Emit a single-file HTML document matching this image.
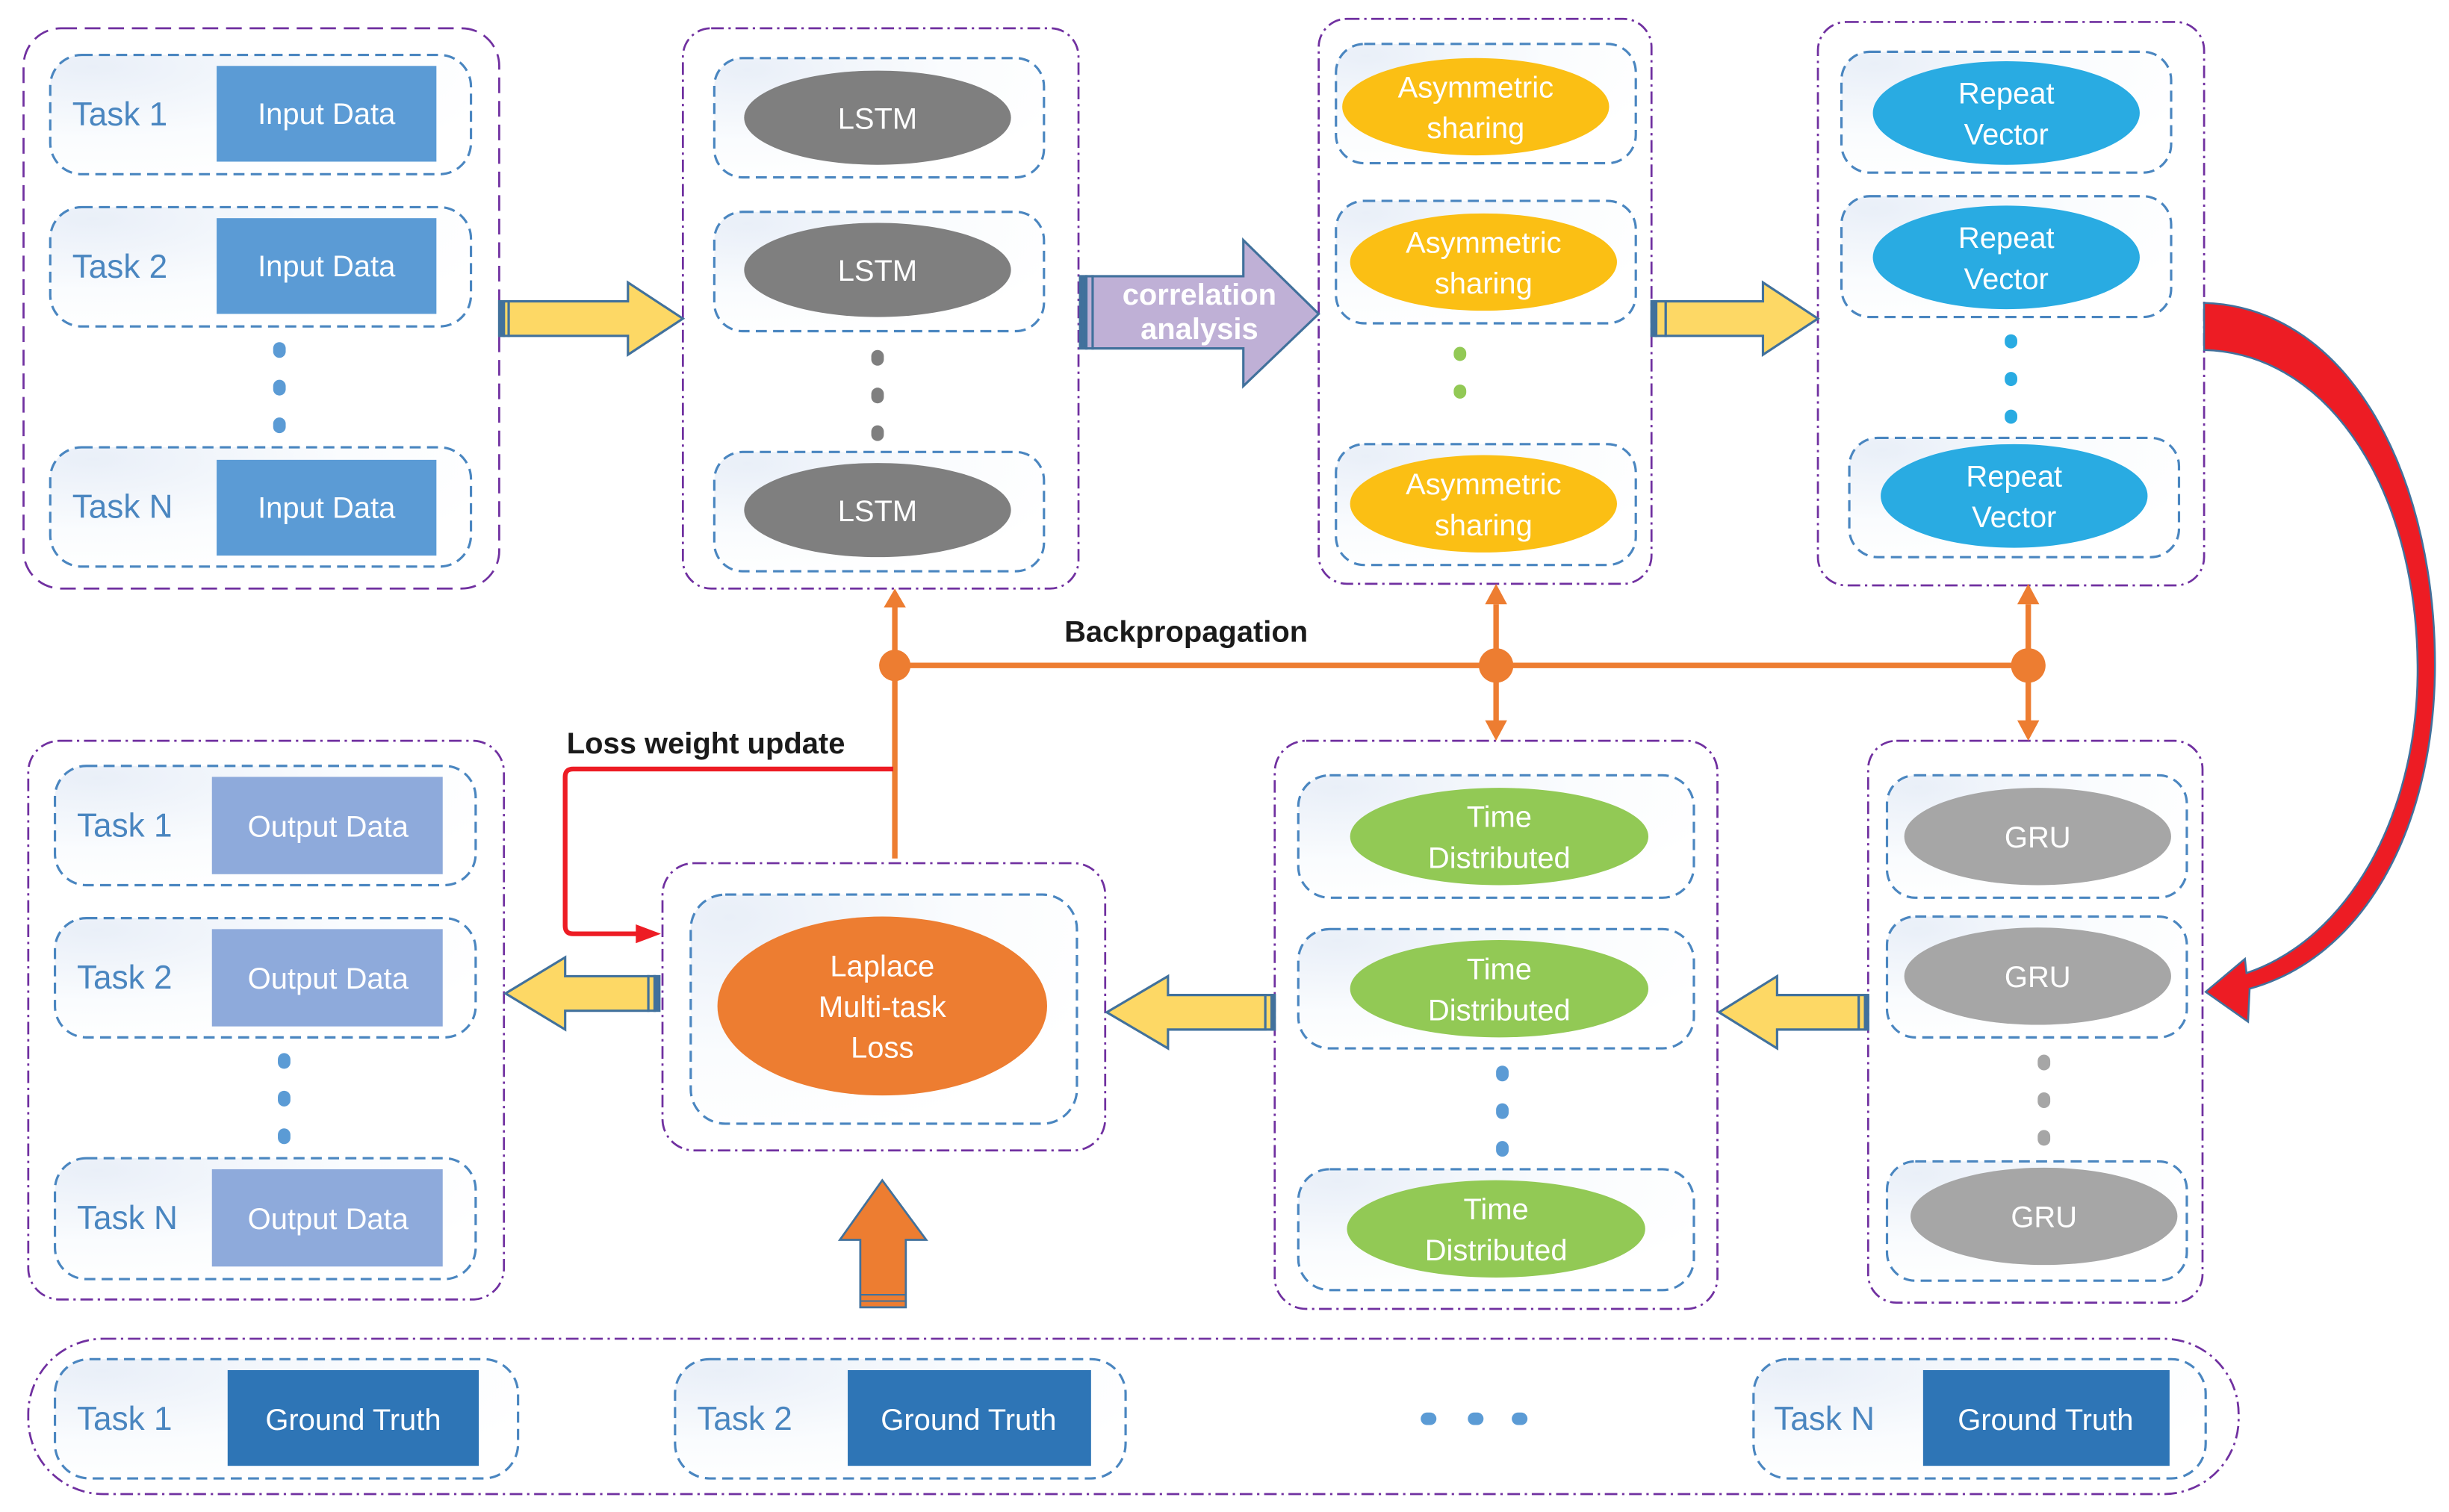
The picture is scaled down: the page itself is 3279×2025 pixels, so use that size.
<!DOCTYPE html>
<html><head><meta charset="utf-8"><style>
html,body{margin:0;padding:0;background:#fff;}
svg{display:block;}
text{font-family:"Liberation Sans",sans-serif;}
</style></head><body>
<svg width="3279" height="2025" viewBox="0 0 1560 963.4" xmlns="http://www.w3.org/2000/svg">
<defs>
<radialGradient id="g" cx="0.1" cy="0.1" r="1">
<stop offset="0" stop-color="#e9eff8"/><stop offset="0.6" stop-color="#fafcfe"/><stop offset="1" stop-color="#fff"/>
</radialGradient>
</defs>
<g fill="none" stroke="#7030a0" stroke-width="1.3">
<rect x="15" y="18" width="303" height="357" rx="24" stroke-dasharray="10,5"/>
<rect x="435" y="18" width="252" height="357" rx="18" stroke-dasharray="8,3,1.5,3"/>
<rect x="840" y="12" width="212" height="360" rx="18" stroke-dasharray="8,3,1.5,3"/>
<rect x="1158" y="14" width="246" height="359" rx="18" stroke-dasharray="8,3,1.5,3"/>
<rect x="18" y="472" width="303" height="356" rx="20" stroke-dasharray="8,3,1.5,3"/>
<rect x="422" y="550" width="282" height="183" rx="20" stroke-dasharray="8,3,1.5,3"/>
<rect x="812" y="472" width="282" height="362" rx="20" stroke-dasharray="8,3,1.5,3"/>
<rect x="1190" y="472" width="213" height="358" rx="18" stroke-dasharray="8,3,1.5,3"/>
<rect x="18" y="853" width="1408" height="99" rx="48" stroke-dasharray="8,3,1.5,3"/>
</g>
<g fill="url(#g)" stroke="#4a86c0" stroke-width="1.5" stroke-dasharray="7,4">
<rect x="32" y="35" width="268" height="76" rx="20"/>
<rect x="32" y="132" width="268" height="76" rx="20"/>
<rect x="32" y="285" width="268" height="76" rx="20"/>
<rect x="455" y="37" width="210" height="76" rx="18"/>
<rect x="455" y="135" width="210" height="76" rx="18"/>
<rect x="455" y="288" width="210" height="76" rx="18"/>
<rect x="851" y="28" width="191" height="76" rx="18"/>
<rect x="851" y="128" width="191" height="78" rx="18"/>
<rect x="851" y="283" width="191" height="77" rx="18"/>
<rect x="1173" y="33" width="210" height="77" rx="18"/>
<rect x="1173" y="125" width="210" height="77" rx="18"/>
<rect x="1178" y="279" width="210" height="76" rx="18"/>
<rect x="35" y="488" width="268" height="76" rx="20"/>
<rect x="35" y="585" width="268" height="76" rx="20"/>
<rect x="35" y="738" width="268" height="77" rx="20"/>
<rect x="440" y="570" width="246" height="146" rx="22"/>
<rect x="827" y="494" width="252" height="78" rx="20"/>
<rect x="827" y="592" width="252" height="76" rx="20"/>
<rect x="827" y="745" width="252" height="77" rx="20"/>
<rect x="1202" y="494" width="191" height="78" rx="18"/>
<rect x="1202" y="584" width="191" height="77" rx="18"/>
<rect x="1202" y="740" width="191" height="76" rx="18"/>
<rect x="35" y="866" width="295" height="76" rx="22"/>
<rect x="430" y="866" width="287" height="76" rx="22"/>
<rect x="1117" y="866" width="288" height="76" rx="22"/>
</g>
<!-- input data -->
<g fill="#5b9bd5"><rect x="138" y="42" width="140" height="61"/><rect x="138" y="139" width="140" height="61"/><rect x="138" y="293" width="140" height="61"/></g>
<g fill="#8eaadb"><rect x="135" y="495" width="147" height="62"/><rect x="135" y="592" width="147" height="62"/><rect x="135" y="745" width="147" height="62"/></g>
<g fill="#2e75b6"><rect x="145" y="873" width="160" height="61"/><rect x="540" y="873" width="155" height="61"/><rect x="1225" y="873" width="157" height="61"/></g>
<g fill="#4a86c0" font-size="21">
<text x="46" y="80">Task 1</text><text x="46" y="177">Task 2</text><text x="46" y="330">Task N</text>
<text x="49" y="533">Task 1</text><text x="49" y="630">Task 2</text><text x="49" y="783">Task N</text>
<text x="49" y="911">Task 1</text><text x="444" y="911">Task 2</text><text x="1130" y="911">Task N</text>
</g>
<g fill="#fff" font-size="19" text-anchor="middle">
<text x="208" y="79">Input Data</text><text x="208" y="176">Input Data</text><text x="208" y="330">Input Data</text>
<text x="209" y="533">Output Data</text><text x="209" y="630">Output Data</text><text x="209" y="783">Output Data</text>
<text x="225" y="911">Ground Truth</text><text x="617" y="911">Ground Truth</text><text x="1303" y="911">Ground Truth</text>
</g>
<!-- ellipses -->
<g fill="#7f7f7f"><ellipse cx="559" cy="75" rx="85" ry="30"/><ellipse cx="559" cy="172" rx="85" ry="30"/><ellipse cx="559" cy="325" rx="85" ry="30"/></g>
<g fill="#fbbf14"><ellipse cx="940" cy="68" rx="85" ry="31"/><ellipse cx="945" cy="167" rx="85" ry="31"/><ellipse cx="945" cy="321" rx="85" ry="31"/></g>
<g fill="#29abe2"><ellipse cx="1278" cy="72" rx="85" ry="33"/><ellipse cx="1278" cy="164" rx="85" ry="33"/><ellipse cx="1283" cy="316" rx="85" ry="33"/></g>
<g fill="#92c955"><ellipse cx="955" cy="533" rx="95" ry="31"/><ellipse cx="955" cy="630" rx="95" ry="31"/><ellipse cx="953" cy="783" rx="95" ry="31"/></g>
<g fill="#a6a6a6"><ellipse cx="1298" cy="533" rx="85" ry="31"/><ellipse cx="1298" cy="622" rx="85" ry="31"/><ellipse cx="1302" cy="775" rx="85" ry="31"/></g>
<ellipse cx="562" cy="641" rx="105" ry="57" fill="#ed7d31"/>
<g fill="#fff" font-size="19" text-anchor="middle">
<text x="559" y="82">LSTM</text><text x="559" y="179">LSTM</text><text x="559" y="332">LSTM</text>
<text x="940" y="62">Asymmetric</text><text x="940" y="88">sharing</text>
<text x="945" y="161">Asymmetric</text><text x="945" y="187">sharing</text>
<text x="945" y="315">Asymmetric</text><text x="945" y="341">sharing</text>
<text x="1278" y="66">Repeat</text><text x="1278" y="92">Vector</text>
<text x="1278" y="158">Repeat</text><text x="1278" y="184">Vector</text>
<text x="1283" y="310">Repeat</text><text x="1283" y="336">Vector</text>
<text x="955" y="527">Time</text><text x="955" y="553">Distributed</text>
<text x="955" y="624">Time</text><text x="955" y="650">Distributed</text>
<text x="953" y="777">Time</text><text x="953" y="803">Distributed</text>
<text x="1298" y="540">GRU</text><text x="1298" y="629">GRU</text><text x="1302" y="782">GRU</text>
<text x="562" y="622">Laplace</text><text x="562" y="648">Multi-task</text><text x="562" y="674">Loss</text>
</g>
<!-- dots -->
<g fill="#5b9bd5"><rect x="174" y="218" width="8" height="10" rx="4"/><rect x="174" y="242" width="8" height="10" rx="4"/><rect x="174" y="266" width="8" height="10" rx="4"/>
<rect x="177" y="671" width="8" height="10" rx="4"/><rect x="177" y="695" width="8" height="10" rx="4"/><rect x="177" y="719" width="8" height="10" rx="4"/>
<rect x="953" y="679" width="8" height="10" rx="4"/><rect x="953" y="703" width="8" height="10" rx="4"/><rect x="953" y="727" width="8" height="10" rx="4"/>
<rect x="905" y="900" width="10" height="8" rx="4"/><rect x="935" y="900" width="10" height="8" rx="4"/><rect x="963" y="900" width="10" height="8" rx="4"/></g>
<g fill="#7f7f7f"><rect x="555" y="223" width="8" height="10" rx="4"/><rect x="555" y="247" width="8" height="10" rx="4"/><rect x="555" y="271" width="8" height="10" rx="4"/></g>
<g fill="#92c955"><rect x="926" y="221" width="8" height="9" rx="4"/><rect x="926" y="245" width="8" height="9" rx="4"/></g>
<g fill="#29abe2"><rect x="1277" y="213" width="8" height="9" rx="4"/><rect x="1277" y="237" width="8" height="9" rx="4"/><rect x="1277" y="261" width="8" height="9" rx="4"/></g>
<g fill="#a6a6a6"><rect x="1298" y="672" width="8" height="10" rx="4"/><rect x="1298" y="696" width="8" height="10" rx="4"/><rect x="1298" y="720" width="8" height="10" rx="4"/></g>
<!-- yellow arrows -->
<g fill="#fdd865" stroke="#41719c" stroke-width="1.5">
<polygon points="324,192 400,192 400,180 435,203 400,226 400,214 324,214"/>
<polygon points="1061,192 1123,192 1123,180 1158,203 1123,226 1123,214 1061,214"/>
<polygon points="413,622 360,622 360,610 322,633 360,656 360,644 413,644"/>
<polygon points="806,634 744,634 744,622 705,645 744,668 744,656 806,656"/>
<polygon points="1184,634 1132,634 1132,622 1095,645 1132,668 1132,656 1184,656"/>
<rect x="318" y="192" width="3" height="22" fill="#41719c"/><rect x="321" y="192" width="3" height="22"/>
<rect x="1052" y="192" width="3" height="22" fill="#41719c"/><rect x="1055" y="192" width="6" height="22"/>
<rect x="413" y="622" width="4" height="22"/><rect x="417" y="622" width="3" height="22" fill="#41719c"/>
<rect x="806" y="634" width="4" height="22"/><rect x="810" y="634" width="2" height="22" fill="#41719c"/>
<rect x="1184" y="634" width="4" height="22"/><rect x="1188" y="634" width="2" height="22" fill="#41719c"/>
</g>
<!-- correlation arrow -->
<g stroke="#41719c" stroke-width="1.5">
<polygon points="696,176 792,176 792,153 840,200 792,246 792,222 696,222" fill="#bfb0d6"/>
<rect x="688" y="176" width="4" height="46" fill="#41719c"/><rect x="692" y="176" width="4" height="46" fill="#bfb0d6"/>
</g>
<g fill="#fff" font-size="19" font-weight="bold" text-anchor="middle"><text x="764" y="194">correlation</text><text x="764" y="216">analysis</text></g>
<!-- orange up arrow -->
<polygon points="548,833 548,790 535,790 562,752 590,790 577,790 577,833" fill="#ed7d31" stroke="#41719c" stroke-width="1.3"/>
<g stroke="#41719c" stroke-width="1"><line x1="548" y1="825" x2="577" y2="825"/><line x1="548" y1="829" x2="577" y2="829"/></g>
<!-- backprop lines -->
<g stroke="#ed7d31" stroke-width="3.5" fill="none">
<line x1="570" y1="424" x2="1292" y2="424"/>
<line x1="570" y1="385" x2="570" y2="547"/>
<line x1="953" y1="385" x2="953" y2="462"/>
<line x1="1292" y1="385" x2="1292" y2="462"/>
</g>
<g fill="#ed7d31">
<circle cx="570" cy="424" r="10"/><circle cx="953" cy="424" r="11"/><circle cx="1292" cy="424" r="11"/>
<polygon points="563,387 570,375 577,387"/><polygon points="946,385 953,372 960,385"/><polygon points="1285,385 1292,372 1299,385"/>
<polygon points="946,459 953,472 960,459"/><polygon points="1285,459 1292,472 1299,459"/>
</g>
<text x="678" y="409" font-size="19" font-weight="bold" fill="#1a1a1a">Backpropagation</text>
<text x="361" y="480" font-size="19" font-weight="bold" fill="#1a1a1a">Loss weight update</text>
<path d="M569,490 L365,490 Q360,490 360,495 L360,590 Q360,595 365,595 L410,595" stroke="#ed1c24" stroke-width="3" fill="none"/>
<polygon points="405,589 421,595 405,601" fill="#ed1c24"/>
<!-- red curved arrow -->
<path d="M1404,193 C1500,196 1553,310 1551,430 C1549,530 1505,610 1433,630 L1432,651 L1405,632 L1430,611 L1431,620 C1496,598 1539,520 1540,430 C1541,315 1485,225 1404,223 Z" fill="#ed1c24" stroke="#41719c" stroke-width="1.2"/>
</svg>
</body></html>
